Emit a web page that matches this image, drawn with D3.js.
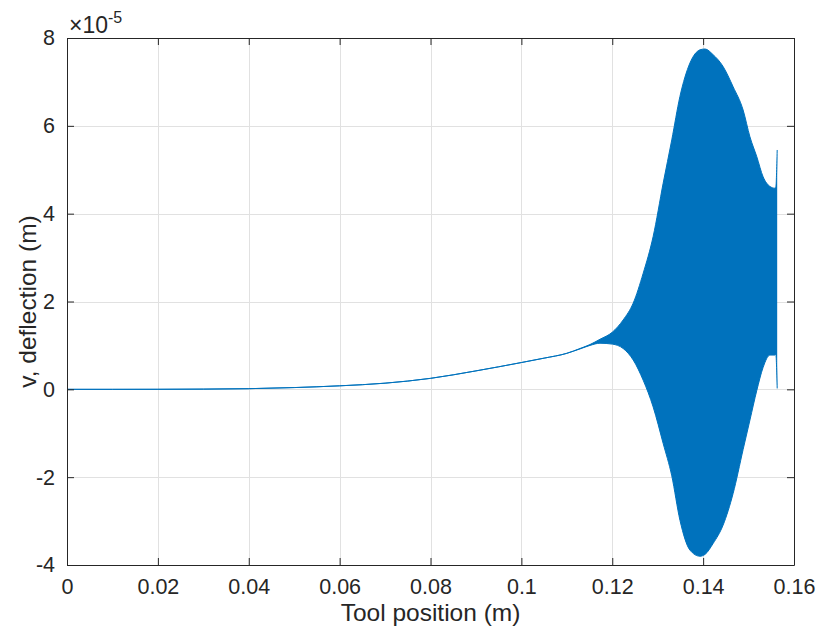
<!DOCTYPE html>
<html>
<head>
<meta charset="utf-8">
<script src="https://cdn.jsdelivr.net/npm/d3@7"></script>
<style>
  html, body { margin: 0; padding: 0; background: #fff; }
  svg { display: block; }
  text { font-family: "Liberation Sans", Arial, Helvetica, sans-serif; fill: #262626; }
</style>
</head>
<body>
<svg id="chart" width="819" height="632"></svg>
<script>
// Tool position (m)
const toolPos = [0, 0.01, 0.02, 0.03, 0.04, 0.05, 0.06, 0.07, 0.08, 0.09, 0.10, 0.105, 0.11, 0.1129,
  0.1151, 0.1173, 0.1200, 0.1224, 0.1246, 0.1268, 0.1290, 0.1312, 0.1331, 0.1349, 0.1371,
  0.1393, 0.1404, 0.1422, 0.1444, 0.1466, 0.1488, 0.1503, 0.1518, 0.1532, 0.1547, 0.1558,
  0.1560, 0.1563];
// Upper envelope of deflection (×1e-5 m)
const upperDefl = [0, 0, 0.001, 0.005, 0.015, 0.04, 0.08, 0.14, 0.25, 0.42, 0.61, 0.71, 0.82, 0.93,
  1.02, 1.14, 1.30, 1.58, 1.96, 2.64, 3.48, 4.69, 5.68, 6.67, 7.43,
  7.73, 7.75, 7.62, 7.35, 6.89, 6.36, 5.75, 5.30, 4.84, 4.62, 4.58,
  4.60, 5.45];
// Lower envelope of deflection (×1e-5 m)
const lowerDefl = [0, 0, 0.001, 0.005, 0.015, 0.04, 0.08, 0.14, 0.25, 0.42, 0.61, 0.71, 0.82, 0.92,
  1.00, 1.05, 1.03, 0.93, 0.67, 0.21, -0.40, -1.23, -1.97, -2.98, -3.66,
  -3.80, -3.76, -3.51, -3.09, -2.37, -1.37, -0.70, -0.03, 0.50, 0.78, 0.78,
  0.80, 0.02];

const xTicks = [0, 0.02, 0.04, 0.06, 0.08, 0.1, 0.12, 0.14, 0.16];
const xTickLabels = ["0", "0.02", "0.04", "0.06", "0.08", "0.1", "0.12", "0.14", "0.16"];
const yTicks = [-4, -2, 0, 2, 4, 6, 8];
const yTickLabels = ["-4", "-2", "0", "2", "4", "6", "8"];

const svg = d3.select("#chart");
const L = 67, R = 794, T = 38, B = 565;
const x = d3.scaleLinear().domain([0, 0.16]).range([L, R]);
const y = d3.scaleLinear().domain([-4, 8]).range([B, T]);
const lineColor = "#0072BD";
const axisColor = "#262626";

// grid
const grid = svg.append("g");
grid.selectAll(".gx").data(xTicks).enter().append("line")
  .attr("x1", d => Math.round(x(d)) + 0.5).attr("x2", d => Math.round(x(d)) + 0.5)
  .attr("y1", T).attr("y2", B)
  .attr("stroke", "#e1e1e1").attr("stroke-width", 1);
grid.selectAll(".gy").data(yTicks).enter().append("line")
  .attr("y1", d => Math.round(y(d)) + 0.5).attr("y2", d => Math.round(y(d)) + 0.5)
  .attr("x1", L).attr("x2", R)
  .attr("stroke", "#e1e1e1").attr("stroke-width", 1);

// data
const data = toolPos.map((p, i) => ({ p, u: upperDefl[i], l: lowerDefl[i] }));
const curve = d3.curveMonotoneX;
const area = d3.area().curve(curve).x(d => x(d.p)).y0(d => y(d.l)).y1(d => y(d.u));
svg.append("path").datum(data).attr("d", area).attr("fill", lineColor);
const upLine = d3.line().curve(curve).x(d => x(d.p)).y(d => y(d.u));
const loLine = d3.line().curve(curve).x(d => x(d.p)).y(d => y(d.l));
svg.append("path").datum(data).attr("d", upLine).attr("fill", "none").attr("stroke", lineColor).attr("stroke-width", 1);
svg.append("path").datum(data).attr("d", loLine).attr("fill", "none").attr("stroke", lineColor).attr("stroke-width", 1);

// axes (box with inward ticks)
const tickLen = 7;
const xAxisB = d3.axisBottom(x).tickValues(xTicks).tickFormat((d, i) => xTickLabels[i]).tickSizeInner(-tickLen).tickSizeOuter(0).tickPadding(14);
const xAxisT = d3.axisTop(x).tickValues(xTicks).tickFormat("").tickSizeInner(-tickLen).tickSizeOuter(0);
const yAxisL = d3.axisLeft(y).tickValues(yTicks).tickFormat((d, i) => yTickLabels[i]).tickSizeInner(-tickLen).tickSizeOuter(0).tickPadding(12);
const yAxisR = d3.axisRight(y).tickValues(yTicks).tickFormat("").tickSizeInner(-tickLen).tickSizeOuter(0);

function style(g) {
  g.selectAll("path").attr("stroke", axisColor).attr("stroke-width", 1);
  g.selectAll("line").attr("stroke", axisColor).attr("stroke-width", 1);
  g.selectAll("text").attr("fill", axisColor).style("font-family", '"Liberation Sans", Arial, sans-serif').style("font-size", "21.5px");
}
svg.append("g").attr("transform", `translate(0,${B})`).call(xAxisB).call(style);
svg.append("g").attr("transform", `translate(0,${T})`).call(xAxisT).call(style);
svg.append("g").attr("transform", `translate(${L},0)`).call(yAxisL).call(style);
svg.append("g").attr("transform", `translate(${R},0)`).call(yAxisR).call(style);

// labels
svg.append("text").attr("x", (L + R) / 2).attr("y", 621).attr("text-anchor", "middle")
  .style("font-size", "24.5px").text("Tool position (m)");
svg.append("text").attr("transform", `translate(36,${(T + B) / 2}) rotate(-90)`).attr("text-anchor", "middle")
  .style("font-size", "24.5px").text("v, deflection (m)");

// exponent
const ex = svg.append("text").attr("x", 69).attr("y", 33).style("font-size", "23px");
ex.append("tspan").text("×10");
ex.append("tspan").attr("dy", -10).style("font-size", "16px").text("-5");
</script>
</body>
</html>
